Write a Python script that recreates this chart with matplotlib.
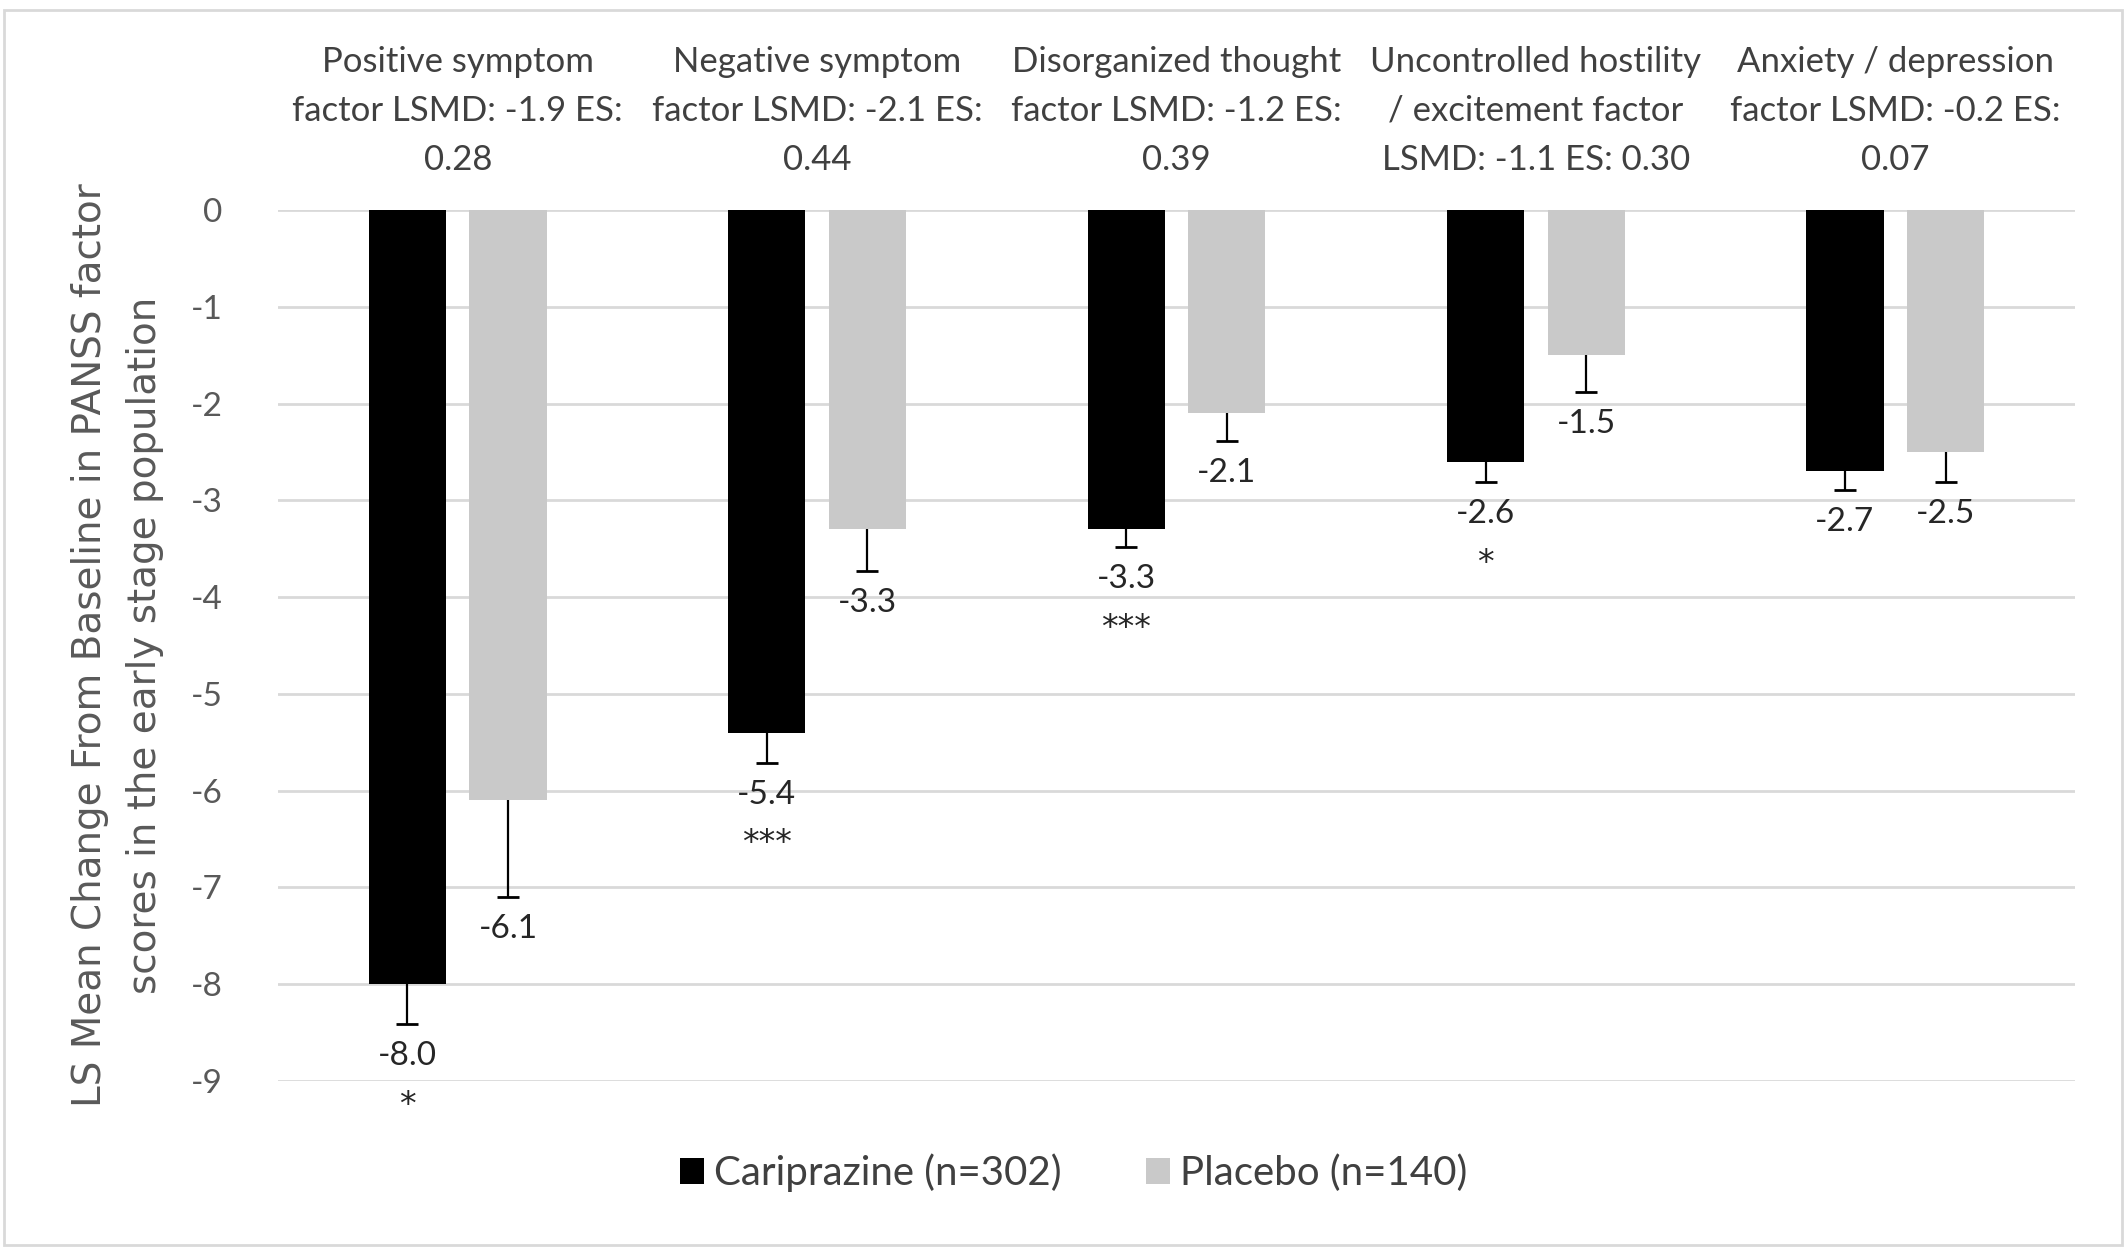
import matplotlib.pyplot as plt
import numpy as np
from matplotlib.patches import Rectangle

plt.rcParams['axes.unicode_minus'] = False

categories = [
    "Positive symptom\nfactor LSMD: -1.9 ES:\n0.28",
    "Negative symptom\nfactor LSMD: -2.1 ES:\n0.44",
    "Disorganized thought\nfactor LSMD: -1.2 ES:\n0.39",
    "Uncontrolled hostility\n/ excitement factor\nLSMD: -1.1 ES: 0.30",
    "Anxiety / depression\nfactor LSMD: -0.2 ES:\n0.07",
]
cariprazine = [-8.0, -5.4, -3.3, -2.6, -2.7]
placebo = [-6.1, -3.3, -2.1, -1.5, -2.5]
cariprazine_err = [0.41, 0.31, 0.18, 0.21, 0.19]
placebo_err = [1.0, 0.43, 0.29, 0.38, 0.31]
stars = ["*", "***", "***", "*", ""]
series_names = ["Cariprazine (n=302)", "Placebo (n=140)"]

font = "Lato"
title_color = "#404040"
tick_color = "#595959"

fig = plt.figure(figsize=(21.26, 12.49), dpi=100)
ax = fig.add_axes([0.1308, 0.1345, 0.8452, 0.6974])

x = np.arange(len(categories))
w = 0.215
off = 0.14

series = [(cariprazine, cariprazine_err, "#000000", -off),
          (placebo, placebo_err, "#c9c9c9", off)]

for (vals, errs, col, dx), name in zip(series, series_names):
    vals = np.array(vals)
    errs = np.array(errs)
    xp = x + dx
    ax.bar(xp, vals, width=w, color=col, label=name, zorder=2)
    low = vals - errs
    ax.vlines(xp, vals, low, color="black", lw=1.6, zorder=3)
    ax.plot(xp, low, ls="none", marker="_", ms=16, mew=2, color="black", zorder=3)
    for xi, v, lo in zip(xp, vals, low):
        ax.text(xi, lo - 0.33, f"{v:.1f}", ha="center", va="center",
                fontsize=24, family=font, color="#262626")

# significance markers under cariprazine labels
for xi, v, e, s in zip(x - off, cariprazine, cariprazine_err, stars):
    if s:
        ax.text(xi, v - e - 0.84, s, ha="center", va="center",
                fontsize=24, family="DejaVu Sans", color="#262626")

for xi, c in zip(x, categories):
    ax.text(xi, 1.114, c, transform=ax.get_xaxis_transform(), ha="center",
            va="center", multialignment="center", linespacing=1.65,
            fontsize=25, family=font, color=title_color)

ax.set_xlim(-0.5, len(categories) - 0.5)
ax.set_ylim(-9, 0)
ax.set_yticks(np.arange(-9, 1, 1))
ax.set_yticklabels([str(t) for t in range(-9, 1)], family=font, fontsize=24, color=tick_color)
ax.set_xticks([])
ax.tick_params(axis="y", length=0, pad=40)
ax.grid(axis="y", color="#d9d9d9", lw=2, zorder=0)
ax.set_axisbelow(True)
for sp in ax.spines.values():
    sp.set_visible(False)

ax.set_ylabel("LS Mean Change From Baseline in PANSS factor\nscores in the early stage population",
              fontsize=28, color=tick_color, family="DejaVu Sans", labelpad=19, linespacing=1.57)

fig.legend(loc="center", bbox_to_anchor=(0.505, 0.061), ncol=2, frameon=False,
           prop={"family": font, "size": 29}, labelcolor=title_color,
           handlelength=0.6, handleheight=0.6, handletextpad=0.25, columnspacing=2.1)

fig.patches.append(Rectangle((0.002, 0.003), 0.996, 0.989, transform=fig.transFigure,
                             fill=False, edgecolor="#d9d9d9", lw=2))

fig.savefig("out.png", dpi=100)
